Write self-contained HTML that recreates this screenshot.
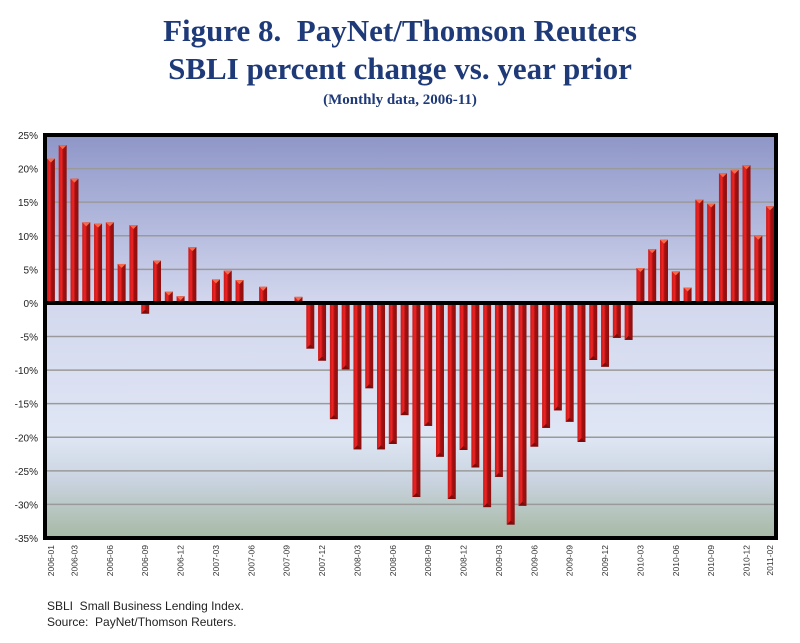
<!DOCTYPE html>
<html><head><meta charset="utf-8"><style>
body{margin:0;background:#fff;width:800px;height:638px;overflow:hidden}
svg text{font-family:"Liberation Sans",sans-serif;white-space:pre}
</style></head><body>
<svg width="800" height="638" xmlns="http://www.w3.org/2000/svg">
<defs>
<linearGradient id="bg" x1="0" y1="0" x2="0" y2="1">
<stop offset="0" stop-color="#8e96c8"/><stop offset="0.42" stop-color="#d3d8ee"/>
<stop offset="0.75" stop-color="#dfe6f4"/><stop offset="0.86" stop-color="#c9d3df"/>
<stop offset="1" stop-color="#a6b9a4"/></linearGradient>
<linearGradient id="bar" x1="0" y1="0" x2="1" y2="0">
<stop offset="0" stop-color="#c81818"/><stop offset="0.35" stop-color="#f02424"/><stop offset="0.6" stop-color="#a01010"/><stop offset="1" stop-color="#8a1010"/></linearGradient>
</defs>
<text x="400" y="41" text-anchor="middle" style="font-family:'Liberation Serif',serif;font-weight:bold;font-size:31px" fill="#1f3a78">Figure 8.&#160; PayNet/Thomson Reuters</text>
<text x="400" y="79" text-anchor="middle" style="font-family:'Liberation Serif',serif;font-weight:bold;font-size:31px" fill="#1f3a78">SBLI percent change vs. year prior</text>
<text x="400" y="104" text-anchor="middle" style="font-family:'Liberation Serif',serif;font-weight:bold;font-size:15px" fill="#1f3a78">(Monthly data, 2006-11)</text>
<rect x="45" y="135" width="731" height="403" fill="url(#bg)"/>
<g id="grid"></g><g id="bars"></g><g id="xl"></g><g id="yl"></g>
<line x1="45" x2="776" y1="303" y2="303" stroke="#000" stroke-width="4"/>
<rect x="45" y="135" width="731" height="403" fill="none" stroke="#000" stroke-width="4"/>
<text x="47" y="610" font-size="12" fill="#222">SBLI&#160; Small Business Lending Index.</text>
<text x="47" y="626" font-size="12" fill="#222">Source:&#160; PayNet/Thomson Reuters.</text>
</svg>
<script>
const values=[21.5,23.5,18.5,12,11.8,12,5.8,11.6,-1.6,6.3,1.7,1.0,8.3,-0.2,3.5,4.8,3.4,-0.2,2.4,0,-0.3,0.9,-6.8,-8.6,-17.3,-9.9,-21.8,-12.7,-21.8,-21,-16.7,-28.9,-18.3,-22.9,-29.2,-21.9,-24.5,-30.4,-25.9,-33,-30.2,-21.4,-18.6,-16,-17.7,-20.7,-8.5,-9.5,-5.2,-5.5,5.2,8,9.4,4.7,2.3,15.4,14.8,19.3,19.8,20.5,10,14.4];
const xLabels=["2006-01","2006-03","2006-06","2006-09","2006-12","2007-03","2007-06","2007-09","2007-12","2008-03","2008-06","2008-09","2008-12","2009-03","2009-06","2009-09","2009-12","2010-03","2010-06","2010-09","2010-12","2011-02"];
const yTicks=[25,20,15,10,5,0,-5,-10,-15,-20,-25,-30,-35];
const NS="http://www.w3.org/2000/svg";
const X0=45,W=731,Y0=135,H=403,YMAX=25,YMIN=-35;
const slot=W/values.length;
const y=v=>Y0+(YMAX-v)/(YMAX-YMIN)*H;
const xc=i=>X0+(i+0.5)*slot;
function mk(t,a,p){const e=document.createElementNS(NS,t);for(const k in a)e.setAttribute(k,a[k]);p.appendChild(e);return e;}
const g=document.getElementById('grid'),b=document.getElementById('bars'),xl=document.getElementById('xl'),yl=document.getElementById('yl');
yTicks.forEach(t=>{
 if(t!==YMAX&&t!==YMIN&&t!==0){const l=mk('line',{x1:X0,x2:X0+W,y1:y(t),y2:y(t),stroke:'#9a9a9a','stroke-width':1.5},g);
 
 }
 const tx=mk('text',{x:38,y:y(t)+4,'text-anchor':'end','font-size':10,fill:'#222'},yl);tx.textContent=t+'%';
 
 
});
values.forEach((v,i)=>{
 const top=Math.min(y(v),y(0)),h=Math.abs(y(v)-y(0));
 const r=mk('rect',{x:xc(i)-4,y:top,width:8,height:Math.max(h,0.01),fill:'url(#bar)'},b);
 
 
 if(h>2){const ty=v>=0?top:top+h,d=v>=0?4:-4;
 const p=mk('polygon',{points:`${xc(i)-4},${ty} ${xc(i)+4},${ty} ${xc(i)},${ty+d}`,fill:v>=0?'#f56a4a':'#7a0c0c'},b);
 
 }
});
xLabels.forEach(s=>{
 const [yy,mm]=s.split('-').map(Number);const i=(yy-2006)*12+mm-1;
 const t=mk('text',{transform:`translate(${xc(i)+3},${545}) rotate(-90)`,'text-anchor':'end','font-size':8.5,fill:'#333'},xl);t.textContent=s;
 
 
});
</script>
</body></html>
